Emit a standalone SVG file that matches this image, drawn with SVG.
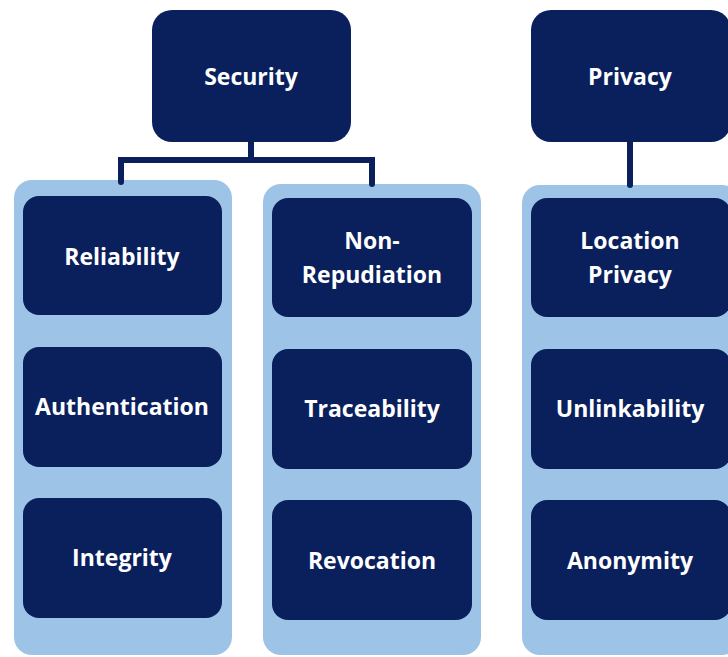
<svg xmlns="http://www.w3.org/2000/svg" width="728" height="657" viewBox="0 0 728 657">
<style>
.cont{fill:#9dc3e6;}
.box{fill:#0a205c;}
.lbl{fill:#ffffff;font-family:"Open Sans","Liberation Sans",sans-serif;font-weight:bold;font-size:23px;text-anchor:middle;dominant-baseline:central;}
.conn{fill:none;stroke:#0a205c;stroke-width:6;stroke-linecap:round;stroke-linejoin:miter;}
</style>
<rect width="728" height="657" fill="#ffffff"/>
<g id="containers">
<rect class="cont" x="14" y="180" width="218" height="475" rx="18"/>
<rect class="cont" x="263" y="184" width="218" height="471" rx="18"/>
<rect class="cont" x="522" y="185" width="218" height="470" rx="18"/>
</g>
<g id="connectors">
<path class="conn" d="M251,142 V160 M121,182 V160 H372 V184"/>
<path class="conn" d="M630,142 V185"/>
</g>
<g id="security"><rect class="box" x="152" y="10" width="199" height="132" rx="20"/><text class="lbl" x="251" y="76">Security</text></g>
<g id="privacy"><rect class="box" x="531" y="10" width="200" height="132" rx="20"/><text class="lbl" x="630" y="76">Privacy</text></g>
<g id="reliability"><rect class="box" x="23" y="196" width="199" height="119" rx="16"/><text class="lbl" x="122" y="256">Reliability</text></g>
<g id="authentication"><rect class="box" x="23" y="347" width="199" height="120" rx="16"/><text class="lbl" x="122" y="406">Authentication</text></g>
<g id="integrity"><rect class="box" x="23" y="498" width="199" height="120" rx="16"/><text class="lbl" x="122" y="557">Integrity</text></g>
<g id="non-repudiation"><rect class="box" x="272" y="198" width="200" height="119" rx="16"/><text class="lbl" x="372" y="240">Non-</text><text class="lbl" x="372" y="274">Repudiation</text></g>
<g id="traceability"><rect class="box" x="272" y="349" width="200" height="120" rx="16"/><text class="lbl" x="372" y="408">Traceability</text></g>
<g id="revocation"><rect class="box" x="272" y="500" width="200" height="120" rx="16"/><text class="lbl" x="372" y="560">Revocation</text></g>
<g id="location-privacy"><rect class="box" x="531" y="198" width="200" height="119" rx="16"/><text class="lbl" x="630" y="240">Location</text><text class="lbl" x="630" y="274">Privacy</text></g>
<g id="unlinkability"><rect class="box" x="531" y="349" width="200" height="120" rx="16"/><text class="lbl" x="630" y="408">Unlinkability</text></g>
<g id="anonymity"><rect class="box" x="531" y="500" width="200" height="120" rx="16"/><text class="lbl" x="630" y="560">Anonymity</text></g>
</svg>
